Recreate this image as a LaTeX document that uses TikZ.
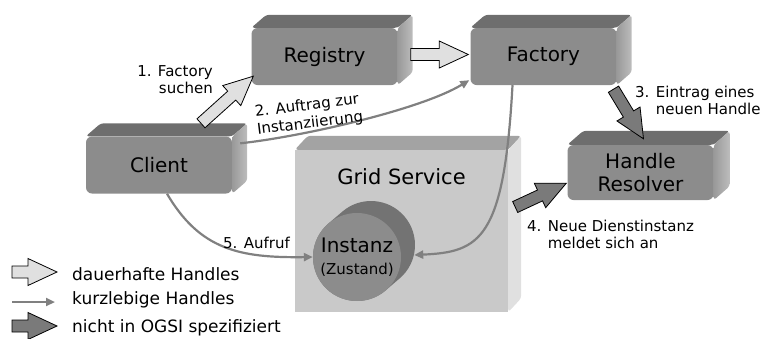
\documentclass[tikz,border=0pt]{standalone}
\usepackage{fontspec}
\setmainfont{DejaVu Sans}
\usetikzlibrary{calc,positioning,arrows.meta}

\definecolor{boxfront}{gray}{0.55}
\definecolor{boxtop}{gray}{0.43}
\definecolor{boxsidea}{gray}{0.60}
\definecolor{boxsideb}{gray}{0.74}
\definecolor{gridfront}{gray}{0.79}
\definecolor{gridtop}{gray}{0.64}
\definecolor{gridside}{gray}{0.88}
\definecolor{lightfill}{gray}{0.88}
\definecolor{darkfill}{gray}{0.48}
\definecolor{thinline}{gray}{0.5}
\definecolor{cylfront}{gray}{0.55}
\definecolor{cylside}{gray}{0.45}

\tikzset{
  block/.style={fill=boxfront, rounded corners=6pt, inner sep=0pt, minimum width=146pt,
    minimum height=57pt, align=center, font=\fontsize{20}{23}\selectfont},
  lbl/.style={font=\fontsize{15}{17}\selectfont, inner sep=0pt, align=left},
  legend/.style={font=\fontsize{17}{20}\selectfont, inner sep=0pt, anchor=base west},
  handle/.style={draw=black, line width=0.8pt, fill=lightfill},
  newhandle/.style={draw=black, line width=0.8pt, fill=darkfill},
  short/.style={draw=thinline, line width=2.2pt, -{Triangle[length=9pt,width=8pt]}}
}

\def\bsw{6pt}\def\bhw{13.5pt}\def\bhl{29pt}
\newcommand{\blockarrow}[3]{%
  \coordinate (neck) at ($(#3)!\bhl!(#2)$);
  \filldraw[#1] ($(#2)!\bsw!90:(#3)$) -- ($(neck)!\bsw!90:(#3)$) -- ($(neck)!\bhw!90:(#3)$)
    -- (#3) -- ($(neck)!\bhw!-90:(#3)$) -- ($(neck)!\bsw!-90:(#3)$) -- ($(#2)!\bsw!-90:(#3)$) -- cycle;
}
\newcommand{\drawsides}[5]{%
  \fill[#3, rounded corners=3pt] (#1.north west) -- ($(#1.north west)+(#2)$)
    -- ($(#1.north east)+(#2)$) -- (#1.north east) -- cycle;
  \shade[left color=#4, right color=#5, rounded corners=3pt] (#1.north east) -- ($(#1.north east)+(#2)$)
    -- ($(#1.south east)+(#2)$) -- (#1.south east) -- cycle;
}

\begin{document}
\begin{tikzpicture}[x=1pt,y=-1pt]
\useasboundingbox (0,0) rectangle (761,338);

\node[block] (registry) at (324.5,56.5) {Registry};
\drawsides{registry}{15,-13}{boxtop}{boxsidea}{boxsideb}
\node[block] (factory) at (543.5,56.5) {Factory};
\drawsides{factory}{15,-13}{boxtop}{boxsidea}{boxsideb}
\node[block] (client) at (159,165) {Client};
\drawsides{client}{15,-13}{boxtop}{boxsidea}{boxsideb}
\node[block, minimum height=55pt] (resolver) at (640.5,172.5) {Handle\\Resolver};
\drawsides{resolver}{16,-14}{boxtop}{boxsidea}{boxsideb}

\node[fill=gridfront, minimum width=213pt, minimum height=162pt, inner sep=0pt] (grid) at (401.5,231) {};
\drawsides{grid}{13,-14}{gridtop}{gridside}{gridside}
\node[below=19pt of grid.north, inner sep=0pt, font=\fontsize{21}{25}\selectfont] (gridlabel) {Grid Service};

\coordinate (instc) at (357,257);
\coordinate (instback) at (371,245);
\draw[cylside, line width=88pt, line cap=round] (instc) -- (instback);
\node[circle, fill=cylfront, minimum size=88pt, inner sep=0pt, align=center,
  font=\fontsize{20}{22}\selectfont] (inst) at (instc) {Instanz\\{\fontsize{15}{18}\selectfont(Zustand)}};

\coordinate (c1) at ($(client.north)+(42,-13)$);
\coordinate (r1) at ($(registry.south west)+(2,-9)$);
\blockarrow{handle}{c1}{r1}
\coordinate (r2) at ($(registry.east)+(13,-2)$);
\coordinate (f2) at ($(factory.west)+(-2,-2)$);
\blockarrow{handle}{r2}{f2}
\coordinate (f3) at ($(factory.south)+(70,4)$);
\coordinate (h3) at ($(resolver.north)+(3,-6)$);
\blockarrow{newhandle}{f3}{h3}
\coordinate (g4) at ($(grid.east)+(7,-24)$);
\coordinate (h4) at ($(resolver.south west)+(-1,-17)$);
\blockarrow{newhandle}{g4}{h4}

\coordinate (c2) at ($(client.north east)+(8,7)$);
\coordinate (f2b) at ($(factory.south west)+(-1,-5)$);
\draw[short] (c2) .. controls (300,137) and (420,110) .. (f2b);
\coordinate (fstart) at ($(factory.south)+(-31,0)$);
\coordinate (instside) at ($(inst.east)+(13,-2)$);
\draw[short] (fstart) .. controls (504,240) and (480,252) .. (instside);
\coordinate (cstart) at ($(client.south)+(8,0)$);
\draw[short] (cstart) .. controls (200,250) and (240,258) .. (inst.west);

\node[lbl, align=right, anchor=north east] (l1) at (213,65) {1. Factory\\suchen};
\node[lbl, rotate=7, font=\fontsize{15}{18}\selectfont] (l2) at (309,115) {2. Auftrag zur\\Instanziierung};
\node[lbl, anchor=north west] (l3) at (635,86) {3. Eintrag eines\\\hphantom{3. }neuen Handle};
\node[lbl, anchor=north west] (l4) at (527,220) {4. Neue Dienstinstanz\\\hphantom{4. }meldet sich an};
\node[lbl] (l5) at (256.5,243) {5. Aufruf};

\coordinate (lg1a) at (12,272); \coordinate (lg1b) at (57,272);
\blockarrow{handle}{lg1a}{lg1b}
\node[legend] (lt1) at (72,280) {dauerhafte Handles};
\coordinate (lg2a) at (12,302); \coordinate (lg2b) at (55,302);
\draw[short] (lg2a) -- (lg2b);
\node[legend] (lt2) at (72,304) {kurzlebige Handles};
\coordinate (lg3a) at (12,326); \coordinate (lg3b) at (57,326);
\blockarrow{newhandle}{lg3a}{lg3b}
\node[legend] (lt3) at (72,332) {nicht in OGSI spezifiziert};
\end{tikzpicture}
\end{document}
